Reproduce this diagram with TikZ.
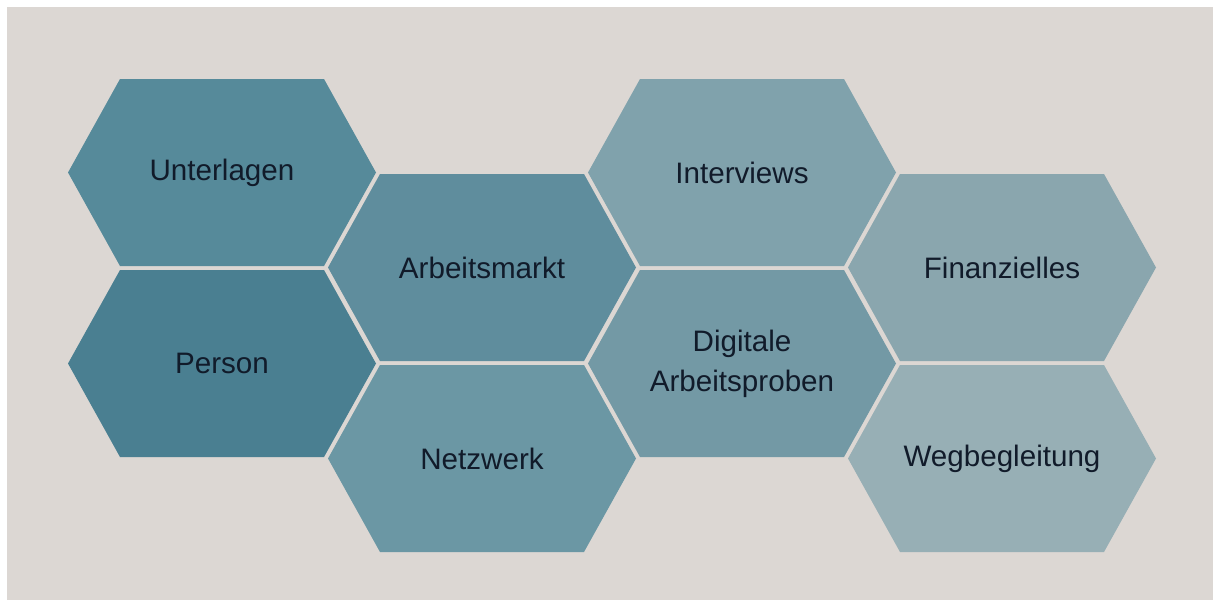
\documentclass[tikz,border=0pt]{standalone}
\usepackage{fontspec}
\setmainfont{Liberation Sans}
\usepackage{xcolor}
\usepackage{tikz}
\usetikzlibrary{positioning, calc}

\definecolor{canvas}{HTML}{DCD7D3}
\definecolor{inktext}{HTML}{111B2A}
\definecolor{hexA}{HTML}{568A9A}
\definecolor{hexB}{HTML}{4A7F91}
\definecolor{hexC}{HTML}{5F8D9D}
\definecolor{hexD}{HTML}{6B97A4}
\definecolor{hexE}{HTML}{80A2AC}
\definecolor{hexF}{HTML}{7399A5}
\definecolor{hexG}{HTML}{8AA6AE}
\definecolor{hexH}{HTML}{97AFB5}

% one hexagon cell: name, centre, colour, text
\newcommand{\hexcell}[4]{%
    \fill[#3, shift={#2}] (-154,0) -- (-102,-93.5) -- (102,-93.5) -- (154,0)
        -- (102,93.5) -- (-102,93.5) -- cycle;
    \node[celltext] (#1) at #2 {#4};
}

\begin{document}
\begin{tikzpicture}[
    x=1pt, y=-1pt,
    celltext/.style={align=center, text=inktext, font=\fontsize{29.6}{40}\selectfont}
]
    % Canvas
    \fill[white] (0,0) rectangle (1215,605);
    \fill[canvas] (7,7) rectangle (1213,600);
    \useasboundingbox (0,0) rectangle (1215,605);

    % First column
    \hexcell{unterlagen}{(222,172.5)}{hexA}{Unterlagen}
    \hexcell{person}{(222,363.5)}{hexB}{Person}

    % Second column
    \hexcell{arbeitsmarkt}{(482,267.5)}{hexC}{Arbeitsmarkt}
    \hexcell{netzwerk}{(482,458.5)}{hexD}{Netzwerk}

    % Third column
    \hexcell{interviews}{(742,172.5)}{hexE}{Interviews}
    \hexcell{digitale}{(742,363.5)}{hexF}{Digitale\\Arbeitsproben}

    % Fourth column
    \hexcell{finanzielles}{(1002,267.5)}{hexG}{Finanzielles}
    \hexcell{wegbegleitung}{(1002,458.5)}{hexH}{Wegbegleitung}
\end{tikzpicture}
\end{document}
